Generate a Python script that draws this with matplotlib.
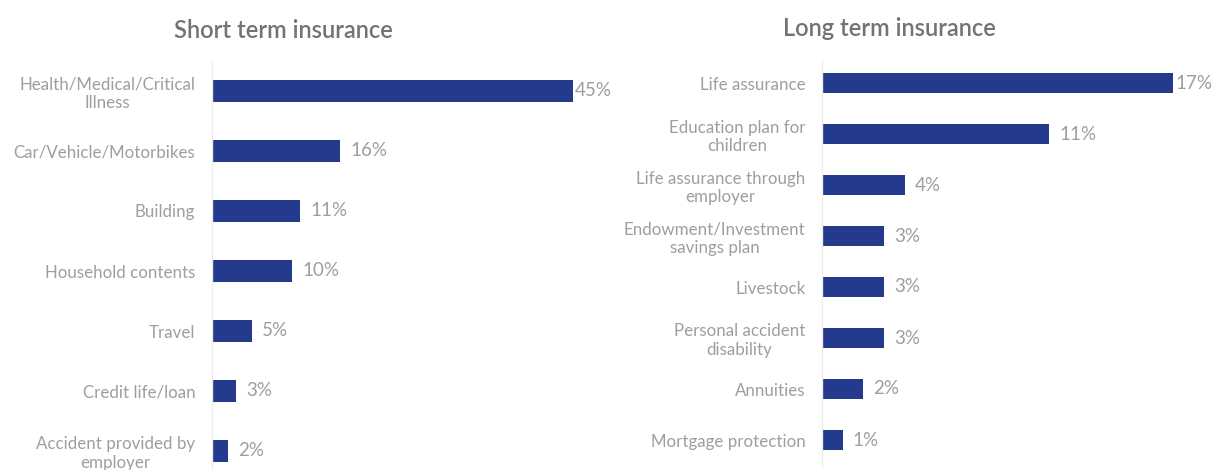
import matplotlib.pyplot as plt

plt.rcParams['font.family'] = ['Lato', 'DejaVu Sans']

# Short term insurance
short_labels = ['Health/Medical/Critical\nIllness', 'Car/Vehicle/Motorbikes', 'Building',
                'Household contents', 'Travel', 'Credit life/loan',
                'Accident provided by\nemployer']
short_values = [45, 16, 11, 10, 5, 3, 2]

# Long term insurance
long_labels = ['Life assurance', 'Education plan for\nchildren',
               'Life assurance through\nemployer', 'Endowment/Investment\nsavings plan',
               'Livestock', 'Personal accident\ndisability', 'Annuities',
               'Mortgage protection']
long_values = [17, 11, 4, 3, 3, 3, 2, 1]

bar_color = '#243a8c'
text_color = '#9e9e9e'
title_color = '#737373'
W, H = 1214, 470

fig = plt.figure(figsize=(W / 100, H / 100), dpi=100)


def panel(left, top, bottom, right, labels, values, row0, step, height, xmax):
    ax = fig.add_axes([left / W, 1 - bottom / H, (right - left) / W, (bottom - top) / H])
    n = len(values)
    pos = list(range(n))
    ax.barh(pos, values, height=height, color=bar_color)
    ax.set_xlim(0, xmax)
    ax.set_ylim((bottom - row0) / step, (top - row0) / step)
    ax.set_yticks(pos)
    ax.set_yticklabels(labels, fontsize=12.2, color=text_color, multialignment='center',
                       linespacing=1.2)
    ax.tick_params(axis='y', length=0, pad=12)
    ax.set_xticks([])
    for s in ['top', 'right', 'bottom']:
        ax.spines[s].set_visible(False)
    ax.spines['left'].set_color('#ececec')
    ax.spines['left'].set_linewidth(1)
    top_val = max(values)
    for p, v in zip(pos, values):
        pad = 2 if v == top_val else 10
        ax.annotate(f'{v}%', (v, p), xytext=(pad, 0), textcoords='offset pixels',
                    va='center', ha='left', fontsize=13.5, color=text_color)
    return ax


panel(212, 62, 470, 613, short_labels, short_values, 91, 60, 0.37, 50)
panel(822, 60, 466, 1200, long_labels, long_values, 83, 51, 0.40, 18.3)

fig.text(283 / W, 1 - 30 / H, 'Short term insurance', ha='center', va='center',
         fontsize=17, fontweight='semibold', color=title_color)
fig.text(889 / W, 1 - 28 / H, 'Long term insurance', ha='center', va='center',
         fontsize=17, fontweight='semibold', color=title_color)

fig.savefig('out.png', dpi=100)
